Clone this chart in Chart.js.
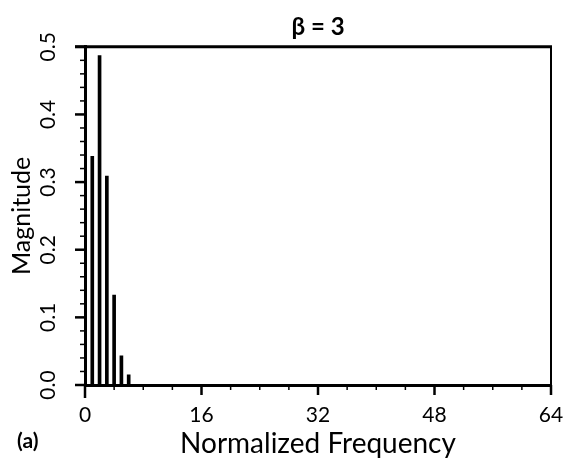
<!DOCTYPE html>
<html>
<head>
<meta charset="utf-8">
<script src="https://cdn.jsdelivr.net/npm/chart.js@4"></script>
<style>
  html, body { margin: 0; padding: 0; background: #fff; }
  canvas { display: block; }
</style>
</head>
<body>
<canvas id="chart" width="565" height="465"></canvas>
<script>
// Spectral line magnitudes of the FM signal (beta = 3)
const frequencyBins = [0, 1, 2, 3, 4, 5, 6];
const magnitudes = [0.10, 0.338, 0.487, 0.309, 0.133, 0.043, 0.015];

// Axis ticks and labels
const xTickValues = [0, 16, 32, 48, 64];
const yTickValues = [0, 0.1, 0.2, 0.3, 0.4, 0.5];
const titleText = 'β = 3';
const xTitleText = 'Normalized Frequency';
const yTitleText = 'Magnitude';
const panelLabel = '(a)';

const FONT = 'Lato';

// Frame, major/minor tick marks and the panel tag
const frameAndTicks = {
  id: 'frameAndTicks',
  afterDraw(chart) {
    const { ctx, chartArea, scales } = chart;
    const { left, right, top, bottom } = chartArea;
    const xs = scales.x, ys = scales.y;
    ctx.save();
    ctx.strokeStyle = '#000';
    ctx.lineCap = 'butt';

    // top and right edges of the box
    ctx.lineWidth = 3;
    ctx.beginPath(); ctx.moveTo(left - 10, top); ctx.lineTo(right + 1, top); ctx.stroke();
    ctx.lineWidth = 2;
    ctx.beginPath(); ctx.moveTo(right, top); ctx.lineTo(right, bottom + 10); ctx.stroke();

    // x ticks: major every 16, minor every 4, pointing down
    for (let v = 0; v <= 64; v += 4) {
      const px = xs.getPixelForValue(v);
      const major = v % 16 === 0;
      const len = v === 0 ? 13 : (major ? 10 : 5);
      ctx.lineWidth = major ? 2.5 : 1.5;
      ctx.beginPath(); ctx.moveTo(px, bottom); ctx.lineTo(px, bottom + len); ctx.stroke();
    }

    // y ticks: major every 0.1, minor every 0.02, pointing left
    for (let i = 0; i <= 25; i++) {
      const v = i * 0.02;
      const py = ys.getPixelForValue(v);
      const major = i % 5 === 0;
      const len = major ? 10 : 5;
      ctx.lineWidth = major ? 2.5 : 1.5;
      ctx.beginPath(); ctx.moveTo(left, py); ctx.lineTo(left - len, py); ctx.stroke();
    }

    // panel tag
    ctx.fillStyle = '#000';
    ctx.font = `bold 21px ${FONT}`;
    ctx.textAlign = 'left';
    ctx.textBaseline = 'middle';
    ctx.fillText(panelLabel, 17, 441);
    ctx.restore();
  }
};

// invisible built-in tick marks, used only to space the labels from the axis
const hiddenGrid = len => ({
  display: true,
  drawOnChartArea: false,
  drawTicks: true,
  tickLength: len,
  color: 'rgba(0,0,0,0)'
});

new Chart(document.getElementById('chart'), {
  type: 'bar',
  data: {
    datasets: [{
      data: frequencyBins.map((f, i) => ({ x: f, y: magnitudes[i] })),
      backgroundColor: '#000',
      borderWidth: 0,
      barThickness: 3
    }]
  },
  options: {
    responsive: false,
    animation: false,
    layout: { padding: { left: 0, right: 14, top: 0, bottom: 0 } },
    plugins: {
      legend: { display: false },
      tooltip: { enabled: false },
      title: {
        display: true,
        text: titleText,
        fullSize: false,
        color: '#000',
        font: { family: FONT, size: 24, weight: 'bold' },
        padding: { top: 13, bottom: 5 }
      }
    },
    scales: {
      x: {
        type: 'linear',
        min: 0,
        max: 64,
        offset: false,
        afterBuildTicks: s => { s.ticks = xTickValues.map(v => ({ value: v })); },
        afterFit: s => { s.height = 80; },
        grid: hiddenGrid(18),
        border: { display: true, color: '#000', width: 3 },
        ticks: {
          color: '#000',
          font: { family: FONT, size: 21 },
          padding: 0,
          maxRotation: 0,
          autoSkip: false
        },
        title: {
          display: true,
          text: xTitleText,
          color: '#000',
          font: { family: FONT, size: 28 },
          padding: { top: 0, bottom: 4 }
        }
      },
      y: {
        min: 0,
        max: 0.5,
        afterBuildTicks: s => { s.ticks = yTickValues.map(v => ({ value: v })); },
        afterFit: s => { s.width = 85; },
        grid: hiddenGrid(22),
        border: { display: true, color: '#000', width: 3 },
        ticks: {
          color: '#000',
          font: { family: FONT, size: 21 },
          padding: 0,
          minRotation: 90,
          maxRotation: 90,
          crossAlign: 'center',
          autoSkip: false,
          callback: v => Number(v).toFixed(1)
        },
        title: {
          display: true,
          text: yTitleText,
          color: '#000',
          font: { family: FONT, size: 25 },
          padding: { top: 7, bottom: 0 }
        }
      }
    }
  },
  plugins: [frameAndTicks]
});
</script>
</body>
</html>
